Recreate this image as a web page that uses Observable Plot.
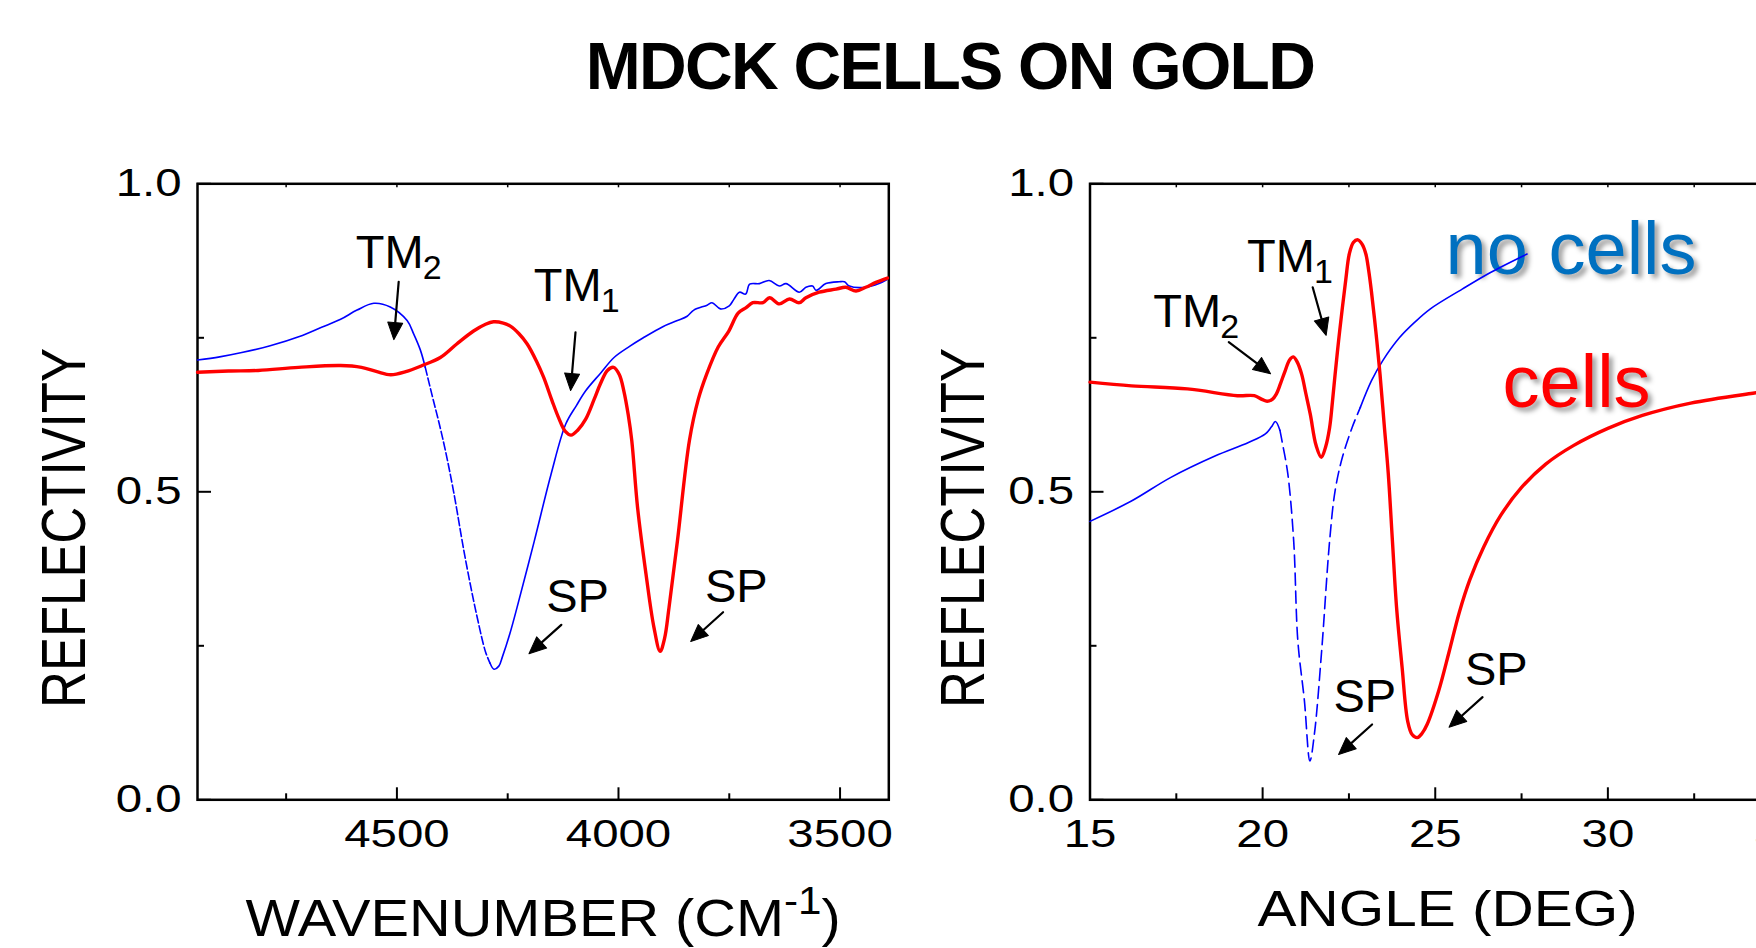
<!DOCTYPE html>
<html>
<head>
<meta charset="utf-8">
<script src="https://cdn.jsdelivr.net/npm/d3@7"></script>
<script src="https://cdn.jsdelivr.net/npm/@observablehq/plot@0.6"></script>
<style>
  html, body { margin: 0; padding: 0; background: #fff; }
  #chart {
    position: relative; width: 1756px; height: 948px; overflow: hidden; background: #fff;
    font-family: "Liberation Sans", Arial, sans-serif;
  }
  #title {
    position: absolute; top: 33px; left: 950px; transform: translateX(-50%);
    font-weight: bold; font-size: 66px; line-height: 66px; letter-spacing: -1.7px;
    white-space: nowrap; color: #000; z-index: 2;
  }
  #chart svg { position: absolute; top: 0; }
</style>
</head>
<body>
<div id="chart"><div id="title">MDCK CELLS ON GOLD</div></div>
<script>
// Reflectivity of a gold film with and without MDCK cells:
// left, against wavenumber at fixed angle; right, against angle of incidence.

const wavenumberTicks = [4500, 4000, 3500];
const wavenumberMinorTicks = [4750, 4250, 3750];
const angleTicks = [15, 20, 25, 30, 35];
const angleMinorTicks = [17.5, 22.5, 27.5, 32.5];
const reflectivityTicks = [0, 0.5, 1];
const reflectivityMinorTicks = [0.25, 0.75];

// [wavenumber (cm-1), reflectivity]
const wnNoCells = [
  [4950, 0.714], [4900, 0.719], [4850, 0.726], [4786, 0.737], [4720, 0.752], [4670, 0.767],
  [4627, 0.780], [4590, 0.795], [4552, 0.806], [4515, 0.800], [4477, 0.778], [4462, 0.756],
  [4447, 0.730], [4436, 0.702], [4420, 0.655], [4405, 0.612], [4390, 0.565], [4372, 0.500],
  [4346, 0.393], [4320, 0.300], [4300, 0.240], [4290, 0.222], [4281, 0.212], [4270, 0.217],
  [4262, 0.232], [4245, 0.270], [4229, 0.312], [4190, 0.420], [4152, 0.529], [4119, 0.610],
  [4095, 0.640], [4074, 0.664], [4040, 0.693], [4010, 0.718], [3975, 0.736], [3944, 0.750],
  [3900, 0.768], [3867, 0.778], [3845, 0.785], [3830, 0.795], [3800, 0.803], [3789, 0.807],
  [3770, 0.797], [3750, 0.802], [3740, 0.812], [3727, 0.824], [3713, 0.821], [3704, 0.837],
  [3682, 0.838], [3660, 0.843], [3637, 0.834], [3622, 0.838], [3592, 0.824], [3577, 0.832],
  [3562, 0.834], [3554, 0.827], [3532, 0.838], [3502, 0.841], [3490, 0.841], [3479, 0.834],
  [3442, 0.832], [3412, 0.838], [3393, 0.845]
];
const wnCells = [
  [4950, 0.694], [4880, 0.696], [4813, 0.697], [4722, 0.702], [4627, 0.705], [4580, 0.702],
  [4545, 0.695], [4514, 0.690], [4480, 0.695], [4443, 0.705], [4402, 0.718], [4365, 0.740],
  [4327, 0.761], [4300, 0.772], [4282, 0.776], [4260, 0.774], [4244, 0.769], [4225, 0.757],
  [4206, 0.740], [4185, 0.712], [4169, 0.686], [4150, 0.648], [4135, 0.620], [4120, 0.598],
  [4107, 0.592], [4092, 0.600], [4074, 0.618], [4055, 0.650], [4041, 0.675], [4025, 0.697],
  [4011, 0.702], [3998, 0.690], [3988, 0.664], [3978, 0.625], [3970, 0.583], [3957, 0.475],
  [3938, 0.367], [3920, 0.280], [3906, 0.241], [3896, 0.262], [3886, 0.312], [3867, 0.420],
  [3840, 0.583], [3820, 0.650], [3801, 0.691], [3775, 0.735], [3751, 0.761], [3730, 0.790],
  [3712, 0.799], [3697, 0.807], [3674, 0.807], [3659, 0.815], [3637, 0.805], [3614, 0.813],
  [3592, 0.807], [3577, 0.815], [3547, 0.824], [3509, 0.829], [3487, 0.832], [3464, 0.826],
  [3442, 0.832], [3419, 0.840], [3393, 0.847]
];

// [angle (deg), reflectivity]
const angleNoCells = [
  [15.0, 0.452], [16.2, 0.485], [17.33, 0.523], [18.62, 0.558], [19.59, 0.580], [20.08, 0.594],
  [20.25, 0.605], [20.37, 0.614], [20.50, 0.600], [20.57, 0.580], [20.73, 0.529], [20.90, 0.420],
  [21.02, 0.258], [21.21, 0.161], [21.37, 0.063], [21.50, 0.107], [21.71, 0.242], [21.94, 0.420],
  [22.10, 0.502], [22.31, 0.556], [22.59, 0.604], [22.83, 0.637], [23.15, 0.680], [23.48, 0.713],
  [23.96, 0.750], [24.40, 0.775], [24.86, 0.797], [25.78, 0.829], [26.60, 0.856], [27.66, 0.886]
];
const angleCells = [
  [15.0, 0.678], [16.2, 0.672], [17.82, 0.667], [19.27, 0.656], [19.76, 0.656], [19.98, 0.650],
  [20.13, 0.647], [20.28, 0.650], [20.40, 0.659], [20.52, 0.676], [20.65, 0.696], [20.78, 0.714],
  [20.89, 0.719], [21.00, 0.711], [21.13, 0.691], [21.25, 0.660], [21.38, 0.626], [21.55, 0.575],
  [21.70, 0.556], [21.82, 0.572], [21.94, 0.604], [22.02, 0.645], [22.10, 0.691], [22.20, 0.745],
  [22.31, 0.799], [22.41, 0.845], [22.51, 0.886], [22.63, 0.905], [22.76, 0.909], [22.88, 0.902],
  [22.99, 0.886], [23.07, 0.860], [23.15, 0.826], [23.28, 0.760], [23.40, 0.691], [23.52, 0.610],
  [23.64, 0.529], [23.76, 0.420], [23.88, 0.312], [24.04, 0.215], [24.20, 0.128], [24.33, 0.106],
  [24.48, 0.101], [24.62, 0.108], [24.77, 0.123], [25.10, 0.177], [25.40, 0.240], [25.70, 0.305],
  [26.00, 0.357], [26.40, 0.410], [26.90, 0.462], [27.50, 0.507], [28.20, 0.545], [29.00, 0.575],
  [30.00, 0.603], [31.00, 0.624], [32.40, 0.644], [34.20, 0.660], [35.00, 0.666]
];

// Stretch of each no-cells curve drawn dashed (steep walls of the SP dip)
const wnDashedSpan = [4290, 4436];
const angleDashedSpan = [20.5, 22.83];

// Mode labels and their arrows, in data coordinates
const wnLabels = [
  {text: "TM", sub: "2", x: 4593, y: 0.864},
  {text: "TM", sub: "1", x: 4191, y: 0.810},
  {text: "SP", x: 4163, y: 0.3045},
  {text: "SP", x: 3805, y: 0.321}
];
const wnArrows = [
  {x1: 4496, y1: 0.841, x2: 4507, y2: 0.747},
  {x1: 4097, y1: 0.759, x2: 4108, y2: 0.6645},
  {x1: 4129, y1: 0.284, x2: 4202, y2: 0.237},
  {x1: 3764, y1: 0.3045, x2: 3837, y2: 0.257}
];
const angleLabels = [
  {text: "TM", sub: "1", x: 19.55, y: 0.8565},
  {text: "TM", sub: "2", x: 16.83, y: 0.767},
  {text: "SP", x: 22.05, y: 0.142},
  {text: "SP", x: 25.86, y: 0.1856}
];
const angleArrows = [
  {x1: 21.45, y1: 0.832, x2: 21.84, y2: 0.754},
  {x1: 19.02, y1: 0.743, x2: 20.23, y2: 0.6916},
  {x1: 23.17, y1: 0.1222, x2: 22.20, y2: 0.0735},
  {x1: 26.37, y1: 0.1666, x2: 25.40, y2: 0.1179}
];
const angleSeriesNames = [
  {text: "no cells", x: 25.30, y: 0.853, color: "#0070C0"},
  {text: "cells", x: 26.95, y: 0.637, color: "#FF0000"}
];

const FONT = "'Liberation Sans', Arial, sans-serif";
const BLUE = "#0000FF";
const RED = "#FF0000";

// filled triangular arrowhead, tip at the far end of the vector
const arrowHead = {
  draw(context, l, r) {
    context.moveTo(0, -l);
    context.lineTo(-r, 0);
    context.lineTo(r, 0);
    context.closePath();
  }
};

function split(series, [lo, hi]) {
  return {
    solidA: series.filter(p => p[0] >= hi),
    dashed: series.filter(p => p[0] >= lo && p[0] <= hi),
    solidB: series.filter(p => p[0] <= lo)
  };
}

function stretch(svg, selector, sx, sy = 1) {
  svg.querySelectorAll(selector).forEach(t => {
    const tr = t.getAttribute("transform") || "";
    t.setAttribute("transform", `${tr} scale(${sx},${sy})`);
  });
}

function textNodes(svg, content) {
  return [...svg.querySelectorAll("text")].filter(t => t.textContent === content);
}

function panel(o) {
  const base = {
    width: o.width, height: 948,
    marginTop: 183.3, marginBottom: 148.7, marginLeft: o.marginLeft, marginRight: o.marginRight,
    x: {domain: o.xDomain}, y: {domain: [0, 1]},
    style: {background: "transparent", maxWidth: "none", overflow: "visible", fontFamily: FONT, color: "#000"}
  };
  // scales alone, so that the arrowheads can be oriented in screen space
  const probe = Plot.plot({...base, marks: [Plot.frame()]});
  const sx = probe.scale("x"), sy = probe.scale("y");
  const arrows = o.arrows.map(a => ({
    ...a,
    angle: Math.atan2(sx.apply(a.x2) - sx.apply(a.x1), -(sy.apply(a.y2) - sy.apply(a.y1))) * 180 / Math.PI
  }));

  const blue = split(o.noCells, o.dashedSpan);
  const line = (data, opts) => Plot.line(data, {x: d => d[0], y: d => d[1], curve: "catmull-rom", ...opts});

  const svg = Plot.plot({
    ...base,
    marks: [
      Plot.frame({stroke: "#000", strokeWidth: 2.5}),
      Plot.axisX(o.xTicks, {anchor: "bottom", tickSize: -12, tickPadding: 31, strokeWidth: 2,
        fontSize: 39.5, tickFormat: d3.format("d"), label: null}),
      Plot.axisX(o.xMinor, {anchor: "bottom", tickSize: -6, strokeWidth: 2, tickFormat: () => "", label: null}),
      Plot.axisX([...o.xTicks, ...o.xMinor], {anchor: "top", tickSize: -3, strokeWidth: 1.5,
        tickFormat: () => "", label: null}),
      Plot.axisY(reflectivityTicks, {anchor: "left", tickSize: -14, tickPadding: 30, strokeWidth: 2,
        fontSize: 39.5, tickFormat: d3.format(".1f"), label: null}),
      Plot.axisY(reflectivityMinorTicks, {anchor: "left", tickSize: -7, strokeWidth: 2,
        tickFormat: () => "", label: null}),
      Plot.text([o.xTitle], {frameAnchor: "bottom", text: d => d, dx: o.xTitleDx, dy: o.xTitleDy,
        textAnchor: "middle", lineAnchor: "bottom", fontSize: o.xTitleSize}),
      Plot.text(["REFLECTIVITY"], {frameAnchor: "left", text: d => d, rotate: -90, dx: o.yTitleDx,
        dy: 36.2, textAnchor: "middle", lineAnchor: "middle", fontSize: 51}),
      ...(o.names || []).map(n => Plot.text([n], {x: "x", y: "y", text: "text", fill: n.color,
        textAnchor: "start", lineAnchor: "bottom", fontSize: 74})),
      line(blue.solidA, {stroke: BLUE, strokeWidth: 1.6}),
      line(blue.dashed, {stroke: BLUE, strokeWidth: 1.6, strokeDasharray: o.dash}),
      line(blue.solidB, {stroke: BLUE, strokeWidth: 1.6}),
      line(o.cells, {stroke: RED, strokeWidth: 3.4}),
      Plot.text(o.labels, {x: "x", y: "y", text: "text", textAnchor: "start", lineAnchor: "bottom", fontSize: 47}),
      Plot.text(o.labels.filter(d => d.sub), {x: "x", y: "y", text: "sub", textAnchor: "start",
        lineAnchor: "bottom", fontSize: 34, dx: 67, dy: 11}),
      Plot.arrow(arrows, {x1: "x1", y1: "y1", x2: "x2", y2: "y2", headLength: 0, insetEnd: 10,
        stroke: "#000", strokeWidth: 2.2}),
      Plot.vector(arrows, {x: "x2", y: "y2", rotate: "angle", length: 17, r: 7.5, anchor: "end",
        shape: arrowHead, fill: "#000", stroke: "#000", strokeWidth: 1})
    ]
  });

  // tick labels and axis titles are set in a horizontally widened face
  stretch(svg, 'g[aria-label="x-axis tick label"] text', 1.2);
  stretch(svg, 'g[aria-label="y-axis tick label"] text', 1.2);
  textNodes(svg, "REFLECTIVITY").forEach(t => t.setAttribute("transform",
    (t.getAttribute("transform") || "") + " scale(1,1.22)"));
  textNodes(svg, o.xTitle).forEach(t => {
    t.setAttribute("transform", (t.getAttribute("transform") || "") + ` scale(${o.xTitleStretch},1)`);
    if (o.xTitleSup) {
      t.textContent = o.xTitle.replace(o.xTitleSup + ")", "");
      const sup = document.createElementNS("http://www.w3.org/2000/svg", "tspan");
      sup.setAttribute("font-size", 38);
      sup.setAttribute("dy", -22);
      sup.textContent = o.xTitleSup;
      const close = document.createElementNS("http://www.w3.org/2000/svg", "tspan");
      close.setAttribute("dy", 22);
      close.textContent = ")";
      t.append(sup, close);
    }
  });
  (o.names || []).forEach(n => textNodes(svg, n.text).forEach(t =>
    t.style.filter = "drop-shadow(4px 4px 2.5px rgba(0,0,0,0.38))"));

  svg.style.left = o.left + "px";
  return svg;
}

const chart = document.getElementById("chart");

chart.append(panel({
  left: 0, width: 900, marginLeft: 197, marginRight: 11.7,
  xDomain: [4950, 3390], xTicks: wavenumberTicks, xMinor: wavenumberMinorTicks,
  xTitle: "WAVENUMBER (CM-1)", xTitleSup: "-1", xTitleSize: 52, xTitleStretch: 1.11,
  xTitleDx: 0, xTitleDy: 135.7, yTitleDx: -132,
  noCells: wnNoCells, cells: wnCells, dashedSpan: wnDashedSpan, dash: "8,3",
  labels: wnLabels, arrows: wnArrows
}));

chart.append(panel({
  left: 900, width: 960, marginLeft: 189.5, marginRight: 80,
  xDomain: [15, 35], xTicks: angleTicks, xMinor: angleMinorTicks,
  xTitle: "ANGLE (DEG)", xTitleSize: 50, xTitleStretch: 1.17,
  xTitleDx: 12.25, xTitleDy: 125.7, yTitleDx: -125.5,
  noCells: angleNoCells, cells: angleCells, dashedSpan: angleDashedSpan, dash: "12,6",
  labels: angleLabels, arrows: angleArrows, names: angleSeriesNames
}));
</script>
</body>
</html>
